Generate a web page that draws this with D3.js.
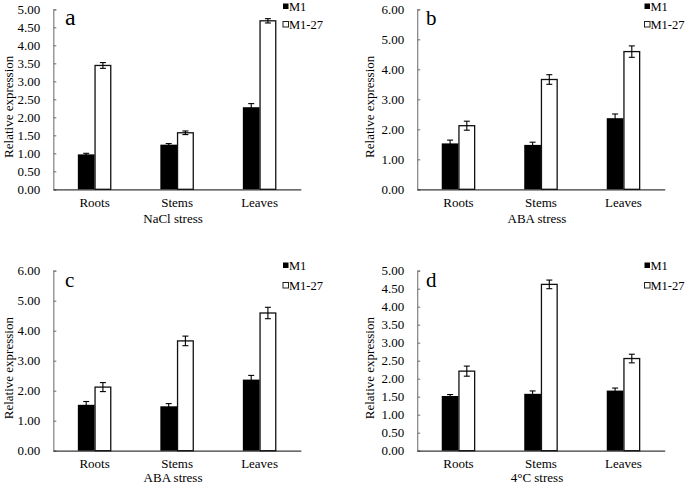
<!DOCTYPE html>
<html>
<head>
<meta charset="utf-8">
<script src="https://cdn.jsdelivr.net/npm/d3@7"></script>
<style>
  html, body { margin: 0; padding: 0; background: #fff; }
  svg { display: block; font-family: "Liberation Serif", "Times New Roman", serif; }
  svg text { font-family: "Liberation Serif", "Times New Roman", serif; fill: #000; }
</style>
</head>
<body>
<svg id="chart" width="685" height="486"></svg>
<script>
// ---- data ----
const categories = ["Roots", "Stems", "Leaves"];
const seriesNames = ["M1", "M1-27"];

const naclM1 = [0.97, 1.24, 2.28];
const naclM1_27 = [3.44, 1.57, 4.68];
const naclM1Err = [0.03, 0.03, 0.10];
const naclM1_27Err = [0.08, 0.05, 0.06];

const abaM1 = [1.53, 1.48, 2.37];
const abaM1_27 = [2.12, 3.66, 4.59];
const abaM1Err = [0.11, 0.09, 0.14];
const abaM1_27Err = [0.15, 0.16, 0.19];

const coldM1 = [1.52, 1.58, 1.67];
const coldM1_27 = [2.21, 4.62, 2.56];
const coldM1Err = [0.04, 0.08, 0.07];
const coldM1_27Err = [0.14, 0.12, 0.12];

const ticksA = [0, 0.5, 1, 1.5, 2, 2.5, 3, 3.5, 4, 4.5, 5];
const ticksB = [0, 1, 2, 3, 4, 5, 6];

const panels = [
  { letter: "a", title: "NaCl stress", m1: naclM1, m27: naclM1_27, e1: naclM1Err, e27: naclM1_27Err, max: 5, ticks: ticksA, x: 53.3, y: 9.3 },
  { letter: "b", title: "ABA stress", m1: abaM1, m27: abaM1_27, e1: abaM1Err, e27: abaM1_27Err, max: 6, ticks: ticksB, x: 417.2, y: 9.3 },
  { letter: "c", title: "ABA stress", m1: abaM1, m27: abaM1_27, e1: abaM1Err, e27: abaM1_27Err, max: 6, ticks: ticksB, x: 53.3, y: 270.7 },
  { letter: "d", title: "4°C stress", m1: coldM1, m27: coldM1_27, e1: coldM1Err, e27: coldM1_27Err, max: 5, ticks: ticksA, x: 417.2, y: 270.7 }
];

const W = 247.5, H = 180;
const svg = d3.select("#chart");
const SERIF = "'Liberation Serif', 'Times New Roman', serif";

panels.forEach(p => {
  const top = p.y < 100;
  const g = svg.append("g").attr("transform", `translate(${p.x},${p.y})`);
  const x0 = d3.scaleBand().domain(categories).range([0, W]).paddingInner(0.595).paddingOuter(0.2975);
  const x1 = d3.scaleBand().domain(seriesNames).range([0, x0.bandwidth()]).padding(0);
  const y = d3.scaleLinear().domain([0, p.max]).range([H, 0]);

  // y axis
  const yAxis = d3.axisLeft(y).tickValues(p.ticks).tickFormat(d3.format(".2f")).tickSizeInner(-3).tickSizeOuter(-3).tickPadding(13);
  const ya = g.append("g").call(yAxis).attr("font-family", SERIF);
  ya.select(".domain").attr("stroke", "#808080").attr("stroke-width", 1.2);
  ya.selectAll(".tick line").attr("stroke", "#808080").attr("stroke-width", 1.2);
  ya.selectAll(".tick text").style("font-family", SERIF).style("font-size", "13px").attr("fill", "#000");

  // x axis
  const xAxis = d3.axisBottom(x0).tickSize(0).tickPadding(8);
  const xa = g.append("g").attr("transform", `translate(0,${H})`).call(xAxis).attr("font-family", SERIF);
  xa.select(".domain").attr("stroke", "#3a3a3a").attr("stroke-width", 1.2);
  xa.selectAll(".tick text").style("font-family", SERIF).style("font-size", "13px").attr("fill", "#000");

  const rows = categories.map((c, i) => ({ c, vals: [
    { s: "M1", v: p.m1[i], e: p.e1[i] },
    { s: "M1-27", v: p.m27[i], e: p.e27[i] }
  ]}));

  const grp = g.selectAll(".grp").data(rows).enter().append("g")
    .attr("transform", d => `translate(${x0(d.c)},0)`);

  grp.selectAll("rect").data(d => d.vals).enter().append("rect")
    .attr("x", d => x1(d.s) + (d.s === "M1" ? 0 : 0.5))
    .attr("y", d => y(d.v))
    .attr("width", d => x1.bandwidth() - (d.s === "M1" ? 0 : 1))
    .attr("height", d => H - y(d.v))
    .attr("fill", d => d.s === "M1" ? "#000" : "#fff")
    .attr("stroke", d => d.s === "M1" ? "none" : "#111")
    .attr("stroke-width", 1.3);

  // error bars
  const eb = grp.selectAll(".eb").data(d => d.vals).enter().append("g");
  eb.append("line")
    .attr("x1", d => x1(d.s) + x1.bandwidth() / 2).attr("x2", d => x1(d.s) + x1.bandwidth() / 2)
    .attr("y1", d => y(d.v + d.e)).attr("y2", d => y(d.v - d.e))
    .attr("stroke", "#000").attr("stroke-width", 1.1);
  eb.selectAll(".cap").data(d => [[d, d.v + d.e], [d, d.v - d.e]]).enter().append("line")
    .attr("x1", d => x1(d[0].s) + x1.bandwidth() / 2 - 3).attr("x2", d => x1(d[0].s) + x1.bandwidth() / 2 + 3)
    .attr("y1", d => y(d[1])).attr("y2", d => y(d[1]))
    .attr("stroke", "#000").attr("stroke-width", 1.1);

  // axis titles
  g.append("text").attr("x", W / 2 - 4).attr("y", H + (top ? 34 : 31.5))
    .attr("text-anchor", "middle").style("font-family", SERIF).style("font-size", "13px").text(p.title);
  g.append("text")
    .attr("transform", `translate(${-p.x + (p.x < 200 ? 13 : 374)},${97.5}) rotate(-90)`)
    .attr("text-anchor", "middle").style("font-family", SERIF).style("font-size", "13px").text("Relative expression");

  // panel letter
  g.append("text").attr("x", p.x < 200 ? 11.7 : 8.8).attr("y", 16)
    .style("font-family", SERIF)
    .style("font-size", p.letter === "a" ? "24px" : "21px").text(p.letter);

  // legend
  const lg = g.append("g").attr("transform", `translate(${(p.x < 200 ? 282.5 : 644) - p.x},${-p.y + (top ? 6 : 265)})`);
  seriesNames.forEach((s, i) => {
    lg.append("rect").attr("x", 0.5).attr("y", i * (top ? 18 : 20) - 2.5).attr("width", 5.5).attr("height", 5.5)
      .attr("fill", i === 0 ? "#000" : "#fff").attr("stroke", i === 0 ? "none" : "#222").attr("stroke-width", 1);
    lg.append("text").attr("x", 6.5).attr("y", i * (top ? 18 : 20) + 4.5)
      .style("font-family", SERIF).style("font-size", "12.5px").text(s);
  });
});
</script>
</body>
</html>
